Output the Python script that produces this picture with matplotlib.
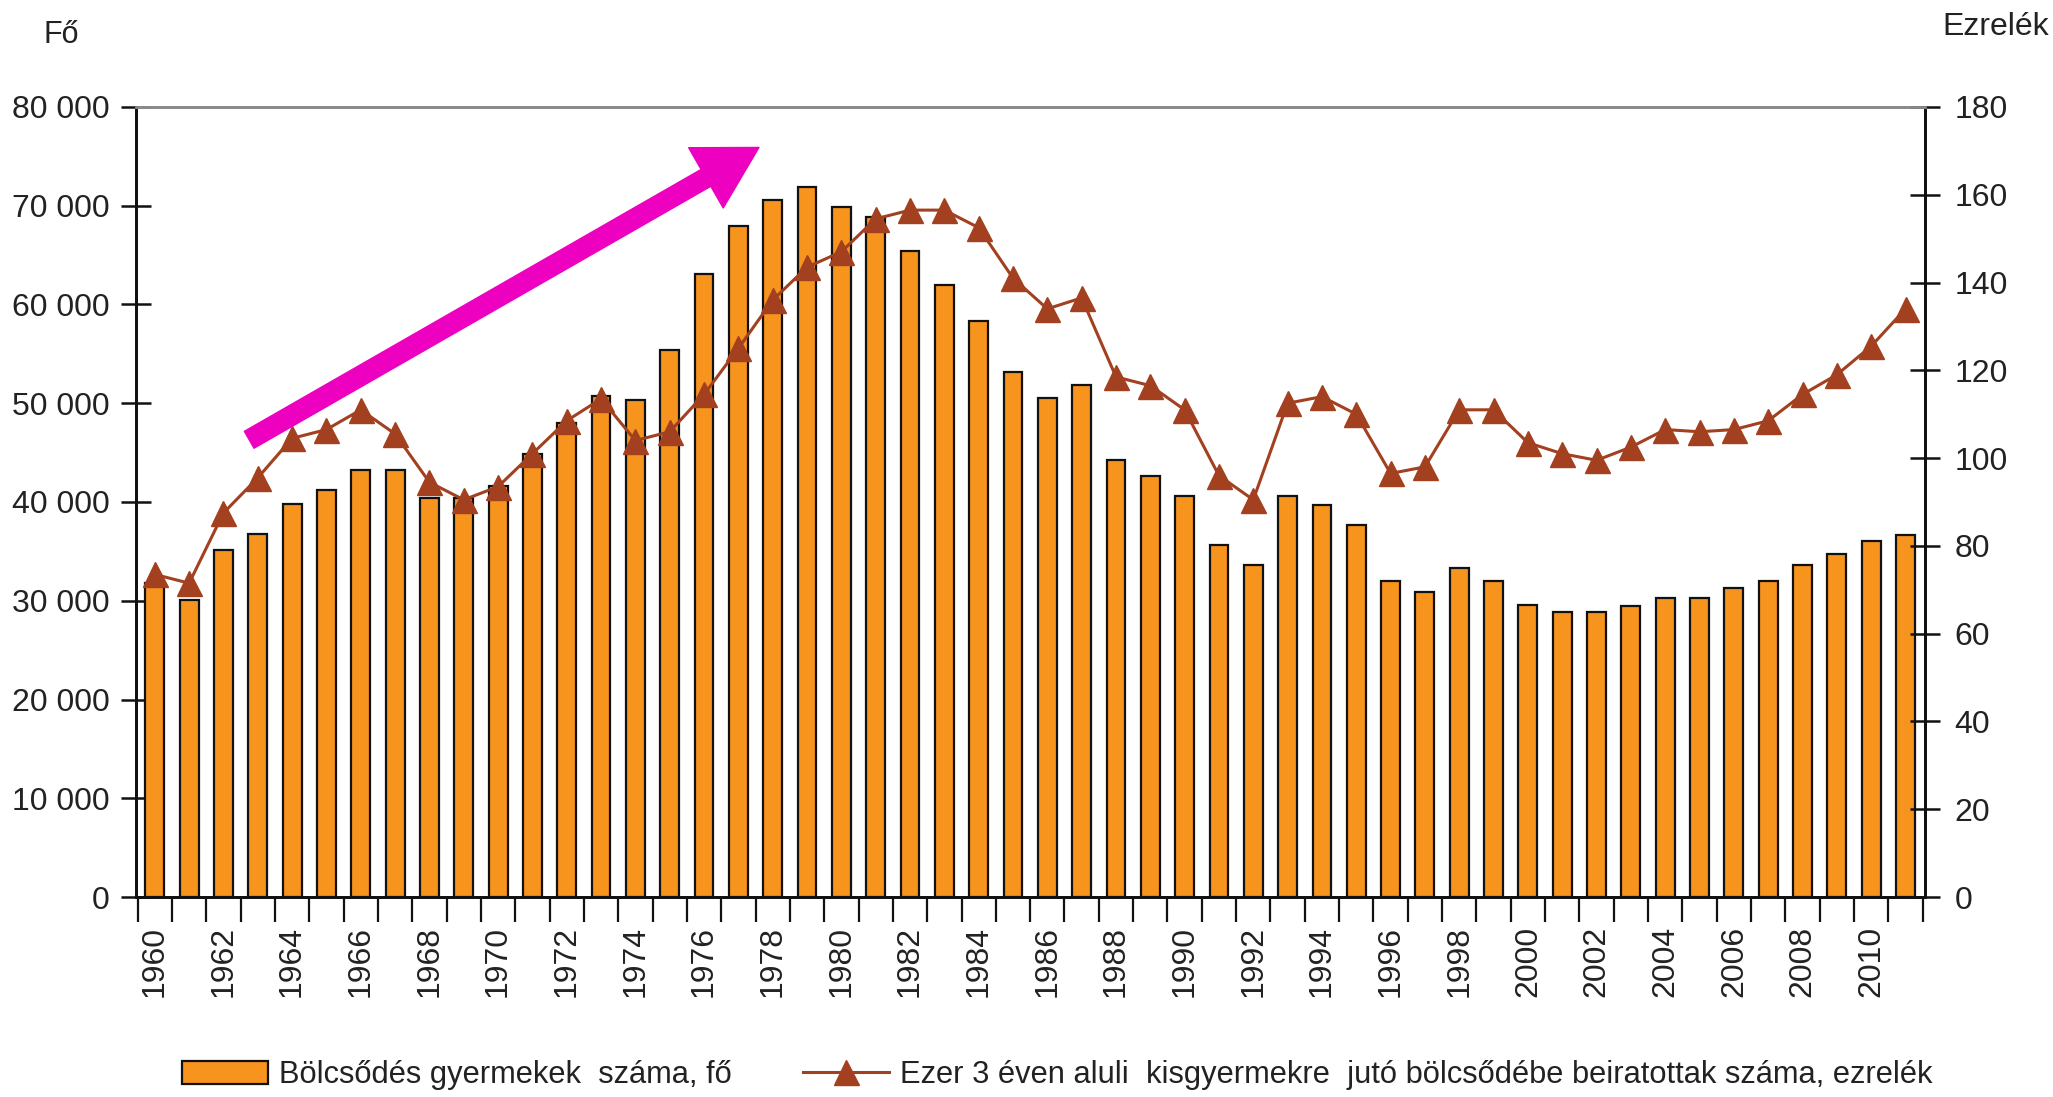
import matplotlib
matplotlib.use('Agg')
import matplotlib.pyplot as plt
import matplotlib.ticker as ticker
from matplotlib.patches import FancyArrowPatch

# ── Data ───────────────────────────────────────────────────────────────────────
years = list(range(1960, 2012))

children = [31800, 30100, 35100, 36800, 39800, 41200, 43200, 43200, 40400, 40400,
            41600, 44900, 48000, 50700, 50300, 55400, 63100, 67900, 70600, 71900,
            69900, 68900, 65400, 62000, 58300, 53200, 50500, 51800, 44300, 42600,
            40600, 35600, 33600, 40600, 39700, 37700, 32000, 30900, 33300, 32000,
            29600, 28900, 28900, 29500, 30300, 30300, 31300, 32000, 33600, 34700,
            36000, 36700]

rate = [73.5, 71.5, 87.5, 95.5, 104.5, 106.5, 111, 105.5, 94.5, 90.5,
        93.5, 101, 108.5, 113.5, 104, 106, 114.5, 125, 136, 143.5,
        147, 154.5, 156.5, 156.5, 152.5, 141, 134, 136.5, 118.5, 116.5,
        111, 96, 90.5, 112.5, 114, 110, 96.5, 98, 111, 111,
        103.5, 101, 99.5, 102.5, 106.5, 106, 106.5, 108.5, 114.5, 119,
        125.5, 134]

label_years = list(range(1960, 2011, 2))
left_ticks = [0, 10000, 20000, 30000, 40000, 50000, 60000, 70000, 80000]
right_ticks = [0, 20, 40, 60, 80, 100, 120, 140, 160, 180]

bar_label = 'Bölcsődés gyermekek  száma, fő'
line_label = 'Ezer 3 éven aluli  kisgyermekre  jutó bölcsődébe beiratottak száma, ezrelék'

# trend arrow (start year/value, end year/value on left axis)
arrow_start = (1962.75, 46300)
arrow_end = (1977.6, 75900)

BAR_COLOR = '#F7941E'
LINE_COLOR = '#A3401F'
ARROW_COLOR = '#EE00C0'
TEXT_COLOR = '#222222'

plt.rcParams['font.family'] = ['Liberation Sans', 'DejaVu Sans']
FS = 23

fig = plt.figure(figsize=(20.53, 10.97), dpi=100)
ax = fig.add_axes([0.0662, 0.1823, 0.8715, 0.7202])
ax2 = ax.twinx()

ax.bar(years, children, width=0.55, color=BAR_COLOR, edgecolor='#111111',
       linewidth=1.6, label=bar_label, zorder=2)

ax2.plot(years, rate, color=LINE_COLOR, linewidth=2.2, marker='^',
         markersize=18, markerfacecolor=LINE_COLOR, markeredgecolor=LINE_COLOR,
         label=line_label, zorder=3)

arrow = FancyArrowPatch(arrow_start, arrow_end,
                        arrowstyle='simple,head_width=50,head_length=44,tail_width=14',
                        mutation_scale=1, color=ARROW_COLOR, shrinkA=0, shrinkB=0,
                        transform=ax.transData, zorder=5)
ax2.add_patch(arrow)

# ── Axes ───────────────────────────────────────────────────────────────────────
ax.set_xlim(1959.45, 2011.57)
ax.set_ylim(0, 80000)
ax2.set_ylim(0, 180)

ax.set_yticks(left_ticks)
ax.yaxis.set_major_formatter(ticker.FuncFormatter(lambda v, p: f'{int(v):,}'.replace(',', ' ')))
ax2.set_yticks(right_ticks)

# tick marks between bars, labels under every other bar
ax.set_xticks([y - 0.5 for y in years] + [years[-1] + 0.5])
ax.set_xticklabels([])
ax.set_xticks(label_years, minor=True)
ax.set_xticklabels([str(y) for y in label_years], minor=True, rotation=90)
ax.tick_params(axis='x', which='major', direction='out', length=18, width=1.6,
               color='#111111')
ax.tick_params(axis='x', which='minor', length=0, pad=21, labelsize=FS,
               labelcolor=TEXT_COLOR)
ax.tick_params(axis='y', direction='inout', length=22, width=1.8, pad=8,
               labelsize=FS, labelcolor=TEXT_COLOR, color='#111111')
ax2.tick_params(axis='y', direction='inout', length=22, width=1.8, pad=10,
                labelsize=FS, labelcolor=TEXT_COLOR, color='#111111')

for a in (ax, ax2):
    a.spines['top'].set_color('#8A8A8A')
    a.spines['top'].set_linewidth(2.0)
    for s in ('left', 'right', 'bottom'):
        a.spines[s].set_color('#111111')
        a.spines[s].set_linewidth(2.0)

fig.text(0.021, 0.968, 'Fő', fontsize=FS - 1, color=TEXT_COLOR, va='center', ha='left')
fig.text(0.998, 0.975, 'Ezrelék', fontsize=FS, color=TEXT_COLOR, va='center', ha='right')

# ── Legend ─────────────────────────────────────────────────────────────────────
h1, l1 = ax.get_legend_handles_labels()
h2, l2 = ax2.get_legend_handles_labels()
fig.legend(h1 + h2, l1 + l2, ncol=2, loc='center', bbox_to_anchor=(0.515, 0.02),
           frameon=False, fontsize=22.2, handlelength=2.8, handleheight=0.8,
           columnspacing=2.3, handletextpad=0.35, labelcolor=TEXT_COLOR)

fig.savefig('out.png', dpi=100, facecolor='white')
